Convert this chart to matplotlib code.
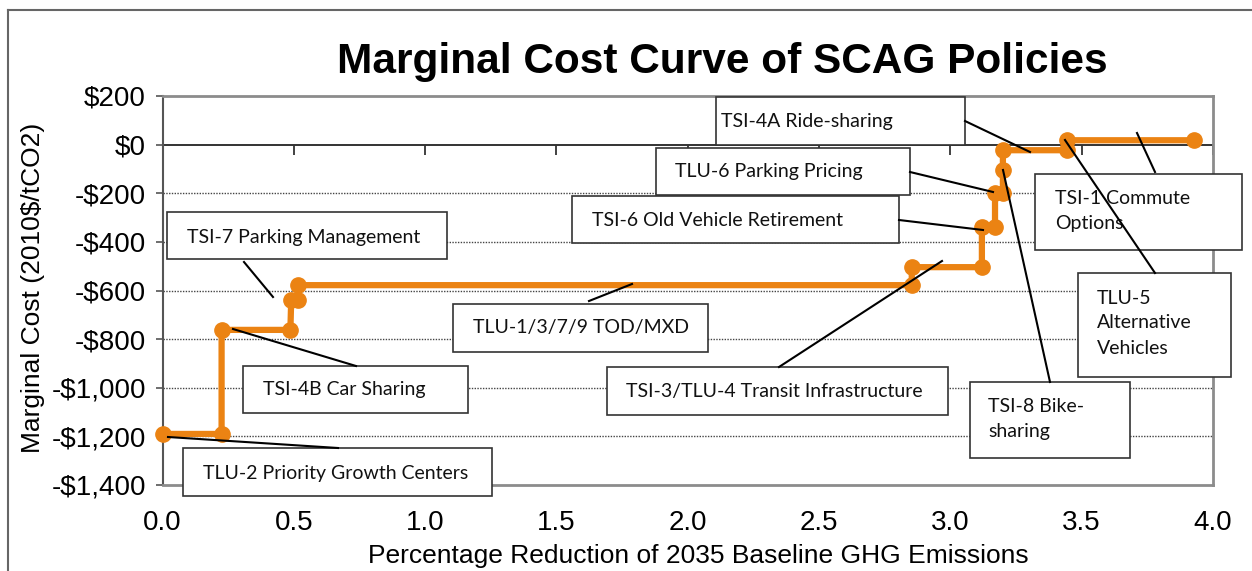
import matplotlib
matplotlib.use("Agg")
import matplotlib.pyplot as plt
from matplotlib.patches import Rectangle
from matplotlib.lines import Line2D
from matplotlib.markers import TICKDOWN
from matplotlib.ticker import FuncFormatter

# cumulative GHG reduction (%) and marginal cost ($/tCO2)
reduction_pct = [0.0, 0.225, 0.225, 0.487, 0.49, 0.515, 0.515, 2.853, 2.853,
                 3.12, 3.12, 3.17, 3.17, 3.20, 3.20, 3.20, 3.444, 3.444, 3.926]
marginal_cost = [-1190, -1190, -762, -762, -640, -640, -578, -578, -504,
                 -504, -340, -340, -198, -198, -105, -23, -23, 18, 18]

x_ticks = [0.0, 0.5, 1.0, 1.5, 2.0, 2.5, 3.0, 3.5, 4.0]
y_ticks = [200, 0, -200, -400, -600, -800, -1000, -1200, -1400]
grid_levels = [-200, -400, -600, -800, -1000, -1200]

policy_labels = [
    ["TSI-4A Ride-sharing"],
    ["TLU-6 Parking Pricing"],
    ["TSI-6 Old Vehicle Retirement"],
    ["TSI-7 Parking Management"],
    ["TLU-1/3/7/9 TOD/MXD"],
    ["TSI-4B Car Sharing"],
    ["TSI-3/TLU-4 Transit Infrastructure"],
    ["TLU-2 Priority Growth Centers"],
    ["TSI-1 Commute", "Options"],
    ["TLU-5", "Alternative", "Vehicles"],
    ["TSI-8 Bike-", "sharing"],
]

# callout layout in image pixels: box (left, top, right, bottom), text x, first line y, leader
callout_layout = [
    ((716, 97, 965, 145), 721, 121, (965, 121), (1030, 152)),
    ((656, 148, 910, 195), 675, 172, (910, 172), (993, 192)),
    ((572, 196, 899, 243), 592, 220, (899, 220), (983, 230)),
    ((167, 212, 447, 259), 187, 237, (244, 262), (273, 297)),
    ((453, 304, 708, 352), 473, 328, (589, 301), (632, 284)),
    ((243, 366, 468, 413), 263, 390, (233, 329), (356, 366)),
    ((607, 367, 948, 415), 626, 391, (779, 367), (942, 261)),
    ((183, 448, 492, 496), 203, 473, (168, 437), (338, 448)),
    ((1035, 174, 1242, 250), 1055, 198, (1155, 172), (1137, 133)),
    ((1078, 273, 1231, 377), 1097, 298, (1155, 273), (1065, 140)),
    ((970, 382, 1130, 458), 988, 406, (1050, 382), (1003, 170)),
]

W, H = 1252, 571
ORANGE = "#EB8313"


def fx(px):
    return px / W


def fy(py):
    return 1 - py / H


fig = plt.figure(figsize=(W / 100, H / 100), dpi=100)
fig.patch.set_facecolor("white")
ax = fig.add_axes([fx(162.5), fy(485), (1213 - 162.5) / W, (485 - 96) / H])

ax.set_xlim(0, 4)
ax.set_ylim(-1400, 200)

for lvl in grid_levels:
    ax.axhline(lvl, color="#444444", lw=1.0, ls=(0, (1, 1)), zorder=1)
ax.axhline(0, color="#333333", lw=1.4, zorder=2)
ax.plot(x_ticks, [0] * len(x_ticks), ls="none", marker=TICKDOWN, ms=7,
        mew=1.3, color="#333333", zorder=2)

ax.plot(reduction_pct, marginal_cost, color=ORANGE, lw=4.5, marker="o",
        ms=11, solid_capstyle="round", zorder=3, clip_on=False)

for side in ["top", "right", "bottom"]:
    ax.spines[side].set_color("#8c8c8c")
    ax.spines[side].set_linewidth(2)
ax.spines["left"].set_color("#555555")
ax.spines["left"].set_linewidth(1.5)

ax.set_xticks(x_ticks)
ax.set_yticks(y_ticks)
ax.xaxis.set_major_formatter(FuncFormatter(lambda v, p: f"{v:.1f}"))
ax.yaxis.set_major_formatter(FuncFormatter(
    lambda v, p: ("-" if v < 0 else "") + f"${abs(v):,.0f}"))
ax.tick_params(axis="x", length=0, pad=18, labelsize=20)
ax.tick_params(axis="y", length=5, width=1.2, color="#555555", pad=7,
               labelsize=20)
for lab in ax.get_xticklabels() + ax.get_yticklabels():
    lab.set_fontfamily("Liberation Sans")

fig.text(fx(698), fy(556), "Percentage Reduction of 2035 Baseline GHG Emissions",
         ha="center", va="center", fontsize=19, fontfamily="Liberation Sans")
fig.text(fx(33), fy(288), "Marginal Cost (2010$/tCO2)", rotation=90,
         ha="center", va="center", fontsize=19, fontfamily="Liberation Sans")

fig.text(fx(722), fy(62), "Marginal Cost Curve of SCAG Policies",
         ha="center", va="center", fontsize=30.5, fontweight="bold",
         fontfamily="Liberation Sans")

# chart area border (top and left only visible)
fig.add_artist(Line2D([fx(8), fx(W + 5)], [fy(10), fy(10)],
                      transform=fig.transFigure, color="#666666", lw=1.5))
fig.add_artist(Line2D([fx(8), fx(8)], [fy(10), fy(H + 5)],
                      transform=fig.transFigure, color="#666666", lw=1.5))

# callout boxes and leaders
for lines, (box, tx, ty, p0, p1) in zip(policy_labels, callout_layout):
    l, t, r, b = box
    fig.add_artist(Rectangle((fx(l), fy(b)), (r - l) / W, (b - t) / H,
                             transform=fig.transFigure, facecolor="white",
                             edgecolor="#333333", lw=1.2, zorder=5))
    for i, line in enumerate(lines):
        fig.text(fx(tx), fy(ty + 25 * i), line, ha="left", va="center",
                 fontsize=14, fontfamily="Lato", color="#111111", zorder=6)

for lines, (box, tx, ty, p0, p1) in zip(policy_labels, callout_layout):
    fig.add_artist(Line2D([fx(p0[0]), fx(p1[0])], [fy(p0[1]), fy(p1[1])],
                          transform=fig.transFigure, color="black", lw=1.5,
                          zorder=7))

fig.savefig("out.png", dpi=100)
